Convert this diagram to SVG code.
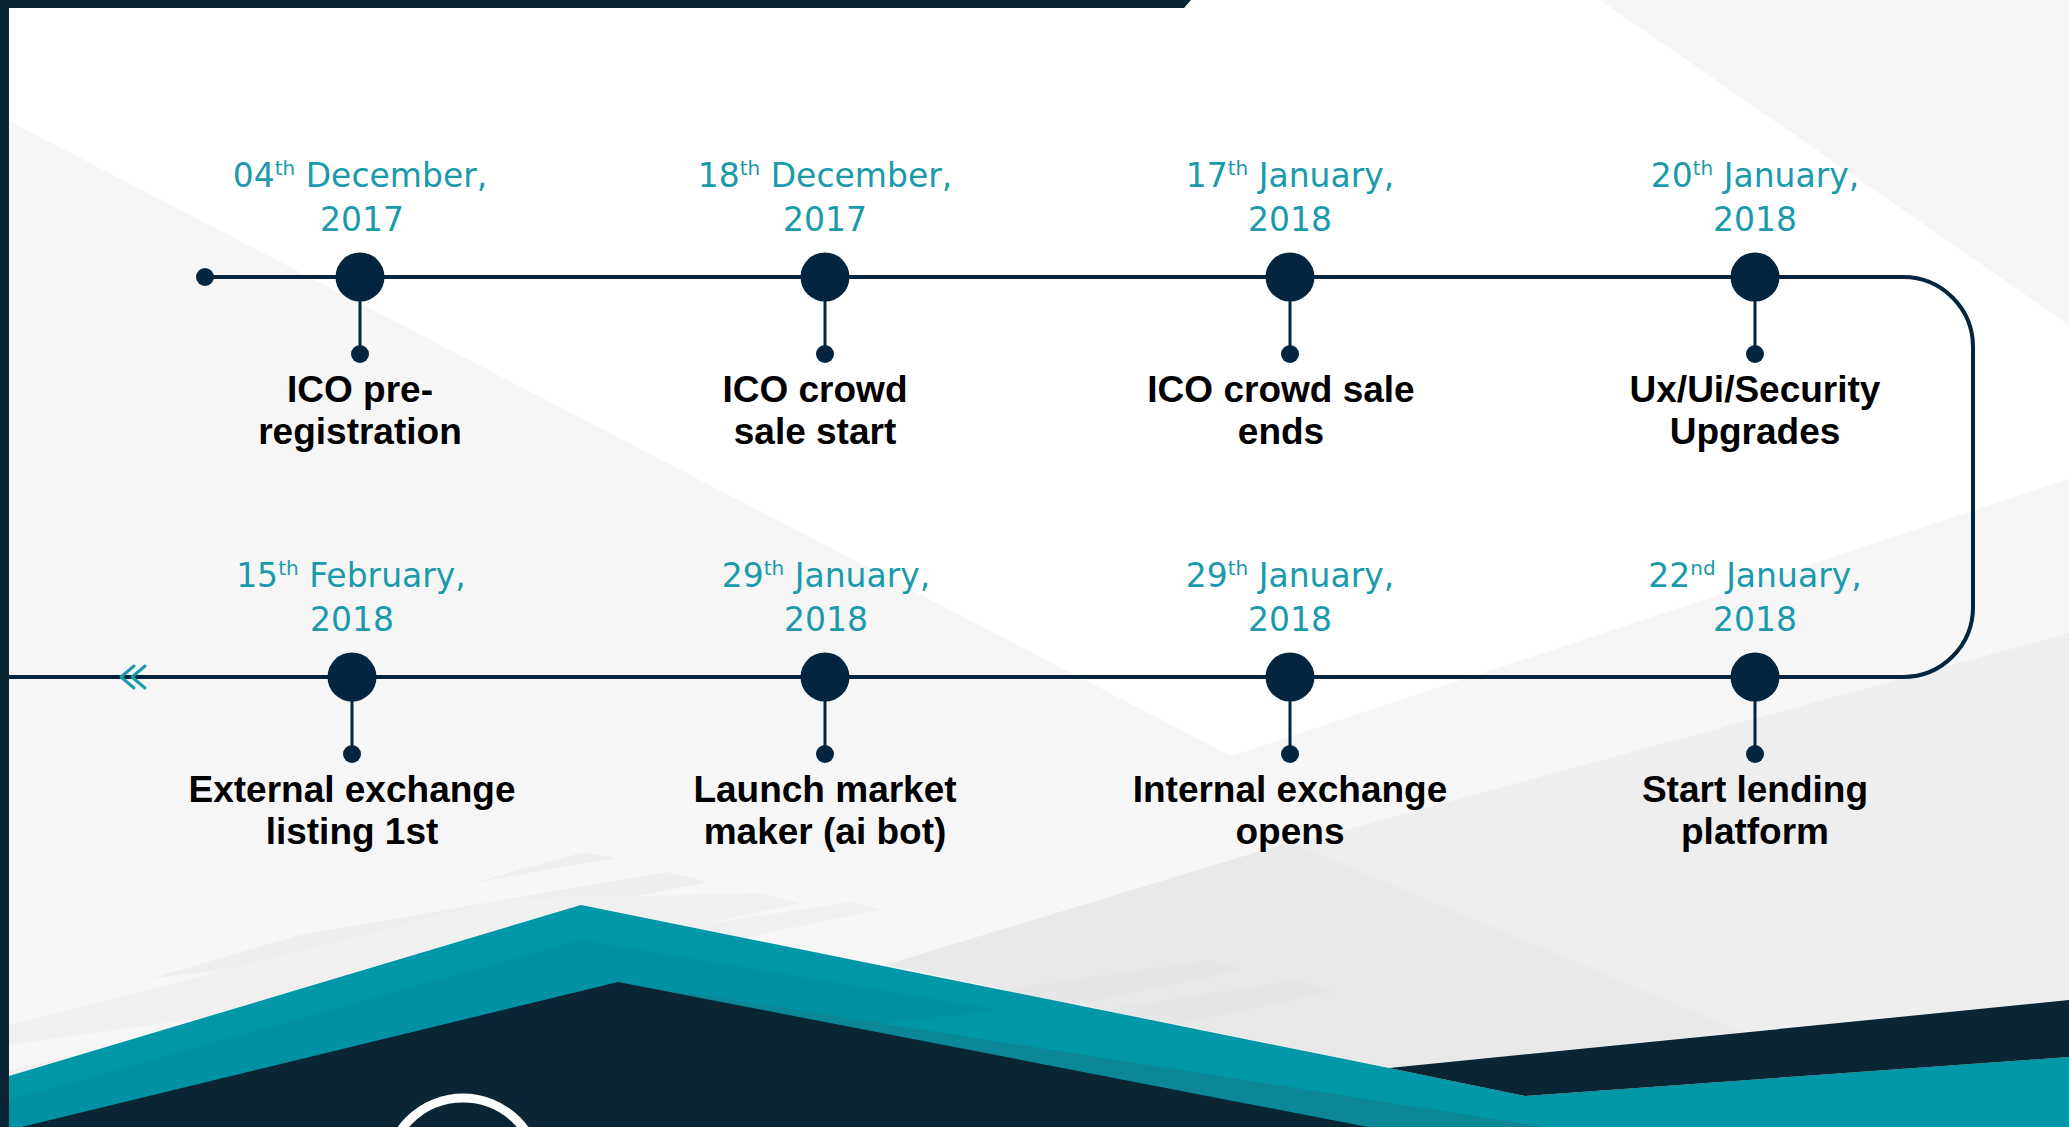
<svg xmlns="http://www.w3.org/2000/svg" width="2069" height="1127" viewBox="0 0 2069 1127">
  <defs>
    <style>
      .date { font-family: "DejaVu Sans", "Liberation Sans", sans-serif; font-weight: normal; font-size: 33px; fill: #1a9aab; text-anchor: middle; }
      .sup { font-size: 20px; }
      .label { font-family: "Liberation Sans", Arial, sans-serif; font-weight: bold; font-size: 37px; fill: #000000; text-anchor: middle; }
      .big { fill: #03253f; }
      .stem { stroke: #03253f; stroke-width: 3; }
      .dot { fill: #03253f; }
      .main { fill: none; stroke: #03253f; stroke-width: 4; }
      .chev { fill: none; stroke: #1a9aab; stroke-width: 3; stroke-linecap: round; stroke-linejoin: round; }
    </style>
  </defs>

  <!-- background -->
  <g id="background">
    <rect x="0" y="0" width="2069" height="1127" fill="#ffffff"/>
    <polygon points="9,121 1231,756 2069,479 2069,1127 9,1127" fill="#f6f6f6"/>
    <polygon points="1600,0 2069,0 2069,325" fill="#f5f5f5"/>
    <polygon points="1290,845 2069,633 2069,1000 1743,1032" fill="#eeeeee"/>
    <polygon points="885,965 1290,842 1743,1032 1389,1068" fill="#e9e9e9"/>
    <polygon points="472,883 584,852 615,858" fill="#eeeeee"/>
    <polygon points="153,978 300,935 666,872 708,882 300,962" fill="#eeeeee"/>
    <polygon points="9,1025 500,900 759,893 800,903 400,990 9,1045" fill="#f0f0f0"/>
    <polygon points="9,1070 600,940 850,902 880,910 9,1088" fill="#f0f0f0"/>
    <polygon points="1000,990 1210,960 1240,970 1050,1010" fill="#e6e6e6"/>
    <polygon points="1100,1010 1300,980 1330,992 1150,1030" fill="#e6e6e6"/>
    <!-- teal shape -->
    <polygon points="9,1076 581,905 1389,1068 1525,1096 2069,1057 2069,1127 9,1127" fill="#0097a9"/>
    <polygon points="9,1100 581,940 1000,1010 9,1127" fill="#0090a2" opacity="0.6"/>
    <polygon points="617,982 1545,1127 1368,1127" fill="#0c8795"/>
    <!-- navy shapes -->
    <polygon points="9,1130 618,982 1368,1127 1368,1130" fill="#0a2533"/>
    <polygon points="1389,1068 2069,1000 2069,1057 1525,1096" fill="#0a2533"/>
    <circle cx="463" cy="1174" r="76" fill="none" stroke="#ffffff" stroke-width="9"/>
    <!-- frame -->
    <polygon points="0,0 1191,0 1184,8 0,8" fill="#0a2534"/>
    <rect x="0" y="0" width="9" height="1127" fill="#0a2534"/>
  </g>

  <!-- connectors -->
  <g id="connectors">
    <path class="main" d="M205,277 H1903 A70,70 0 0 1 1973,347 V607 A70,70 0 0 1 1903,677 H9"/>
    <circle class="dot" cx="205" cy="277" r="9"/>
    <polyline class="chev" points="134,666 121,677 134,688"/>
    <polyline class="chev" points="145,666 132,677 145,688"/>
  </g>

  <!-- top row -->
  <g id="node-1">
    <line class="stem" x1="360" y1="277" x2="360" y2="354"/>
    <circle class="dot" cx="360" cy="354" r="9"/>
    <circle class="big" cx="360" cy="277" r="24.5"/>
    <text class="date" x="360" y="187">04<tspan class="sup" dy="-12">th</tspan><tspan dy="12"> December,</tspan></text>
    <text class="date" x="362" y="231">2017</text>
    <text class="label" x="360" y="402">ICO pre-</text>
    <text class="label" x="360" y="444">registration</text>
  </g>
  <g id="node-2">
    <line class="stem" x1="825" y1="277" x2="825" y2="354"/>
    <circle class="dot" cx="825" cy="354" r="9"/>
    <circle class="big" cx="825" cy="277" r="24.5"/>
    <text class="date" x="825" y="187">18<tspan class="sup" dy="-12">th</tspan><tspan dy="12"> December,</tspan></text>
    <text class="date" x="825" y="231">2017</text>
    <text class="label" x="815" y="402">ICO crowd</text>
    <text class="label" x="815" y="444">sale start</text>
  </g>
  <g id="node-3">
    <line class="stem" x1="1290" y1="277" x2="1290" y2="354"/>
    <circle class="dot" cx="1290" cy="354" r="9"/>
    <circle class="big" cx="1290" cy="277" r="24.5"/>
    <text class="date" x="1290" y="187">17<tspan class="sup" dy="-12">th</tspan><tspan dy="12"> January,</tspan></text>
    <text class="date" x="1290" y="231">2018</text>
    <text class="label" x="1281" y="402">ICO crowd sale</text>
    <text class="label" x="1281" y="444">ends</text>
  </g>
  <g id="node-4">
    <line class="stem" x1="1755" y1="277" x2="1755" y2="354"/>
    <circle class="dot" cx="1755" cy="354" r="9"/>
    <circle class="big" cx="1755" cy="277" r="24.5"/>
    <text class="date" x="1755" y="187">20<tspan class="sup" dy="-12">th</tspan><tspan dy="12"> January,</tspan></text>
    <text class="date" x="1755" y="231">2018</text>
    <text class="label" x="1755" y="402">Ux/Ui/Security</text>
    <text class="label" x="1755" y="444">Upgrades</text>
  </g>

  <!-- bottom row -->
  <g id="node-5">
    <line class="stem" x1="1755" y1="677" x2="1755" y2="754"/>
    <circle class="dot" cx="1755" cy="754" r="9"/>
    <circle class="big" cx="1755" cy="677" r="24.5"/>
    <text class="date" x="1755" y="587">22<tspan class="sup" dy="-12">nd</tspan><tspan dy="12"> January,</tspan></text>
    <text class="date" x="1755" y="631">2018</text>
    <text class="label" x="1755" y="802">Start lending</text>
    <text class="label" x="1755" y="844">platform</text>
  </g>
  <g id="node-6">
    <line class="stem" x1="1290" y1="677" x2="1290" y2="754"/>
    <circle class="dot" cx="1290" cy="754" r="9"/>
    <circle class="big" cx="1290" cy="677" r="24.5"/>
    <text class="date" x="1290" y="587">29<tspan class="sup" dy="-12">th</tspan><tspan dy="12"> January,</tspan></text>
    <text class="date" x="1290" y="631">2018</text>
    <text class="label" x="1290" y="802">Internal exchange</text>
    <text class="label" x="1290" y="844">opens</text>
  </g>
  <g id="node-7">
    <line class="stem" x1="825" y1="677" x2="825" y2="754"/>
    <circle class="dot" cx="825" cy="754" r="9"/>
    <circle class="big" cx="825" cy="677" r="24.5"/>
    <text class="date" x="826" y="587">29<tspan class="sup" dy="-12">th</tspan><tspan dy="12"> January,</tspan></text>
    <text class="date" x="826" y="631">2018</text>
    <text class="label" x="825" y="802">Launch market</text>
    <text class="label" x="825" y="844">maker (ai bot)</text>
  </g>
  <g id="node-8">
    <line class="stem" x1="352" y1="677" x2="352" y2="754"/>
    <circle class="dot" cx="352" cy="754" r="9"/>
    <circle class="big" cx="352" cy="677" r="24.5"/>
    <text class="date" x="351" y="587">15<tspan class="sup" dy="-12">th</tspan><tspan dy="12"> February,</tspan></text>
    <text class="date" x="352" y="631">2018</text>
    <text class="label" x="352" y="802">External exchange</text>
    <text class="label" x="352" y="844">listing 1st</text>
  </g>
</svg>
